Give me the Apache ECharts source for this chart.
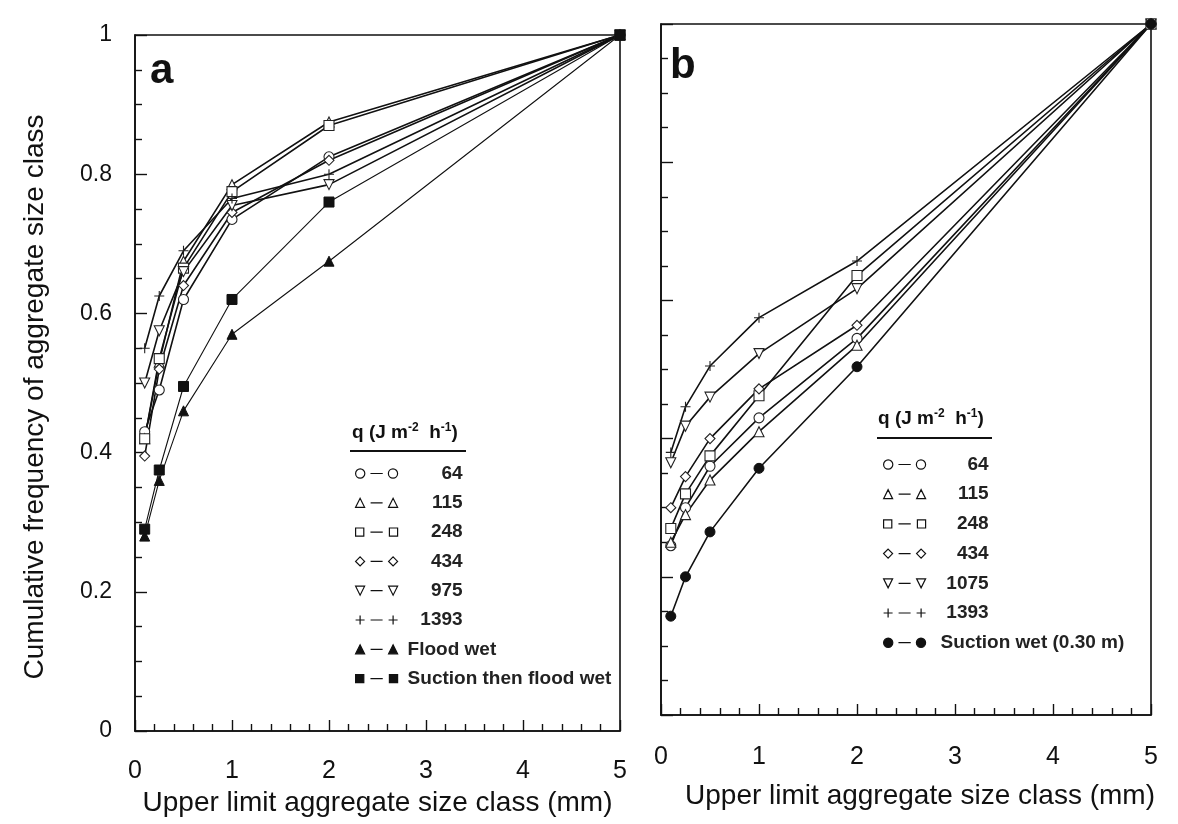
<!DOCTYPE html>
<html>
<head>
<meta charset="utf-8">
<script src="https://cdn.jsdelivr.net/npm/echarts@6/dist/echarts.min.js"></script>
<style>
  html, body { margin: 0; padding: 0; background: #fff; }
  #chart { width: 1178px; height: 824px; }
</style>
</head>
<body>
<div id="chart"></div>
<script>
// upper limit of each aggregate size class (mm)
const sizeClasses = [0.1, 0.25, 0.5, 1, 2, 5];

// panel a: cumulative frequency per heating rate q
const a64 = [0.43, 0.49, 0.62, 0.735, 0.825, 1];
const a115 = [0.42, 0.53, 0.675, 0.785, 0.875, 1];
const a248 = [0.42, 0.535, 0.665, 0.775, 0.87, 1];
const a434 = [0.395, 0.52, 0.64, 0.745, 0.82, 1];
const a975 = [0.50, 0.575, 0.66, 0.755, 0.785, 1];
const a1393 = [0.55, 0.625, 0.69, 0.765, 0.80, 1];
const aFloodWet = [0.28, 0.36, 0.46, 0.57, 0.675, 1];
const aSuctionFlood = [0.29, 0.375, 0.495, 0.62, 0.76, 1];

// panel b
const b64 = [0.245, 0.30, 0.36, 0.43, 0.545, 1];
const b115 = [0.25, 0.29, 0.34, 0.41, 0.535, 1];
const b248 = [0.27, 0.32, 0.375, 0.462, 0.636, 1];
const b434 = [0.30, 0.345, 0.40, 0.472, 0.564, 1];
const b1075 = [0.365, 0.418, 0.46, 0.523, 0.617, 1];
const b1393 = [0.38, 0.446, 0.505, 0.575, 0.657, 1];
const bSuctionWet = [0.143, 0.20, 0.265, 0.357, 0.504, 1];

const xTicks = [0, 1, 2, 3, 4, 5];
const yTicks = [0, 0.2, 0.4, 0.6, 0.8, 1];

const legendA = ['64', '115', '248', '434', '975', '1393', 'Flood wet', 'Suction then flood wet'];
const legendB = ['64', '115', '248', '434', '1075', '1393', 'Suction wet (0.30 m)'];

const FONT = 'Liberation Sans, Arial, sans-serif';
const PLUS = 'path://M0,5L10,5M5,0L5,10';
const TRI_DOWN = 'path://M0,0L10,0L5,9Z';

// legend icons drawn as "symbol - symbol"
const DASH = ' M15,5H27';
const ICONS = {
  circle: 'path://M0.5,5a4.5,4.5 0 1,0 9,0a4.5,4.5 0 1,0 -9,0Z M32.5,5a4.5,4.5 0 1,0 9,0a4.5,4.5 0 1,0 -9,0Z' + DASH,
  triangle: 'path://M0,9.5L4.5,0.5L9,9.5Z M33,9.5L37.5,0.5L42,9.5Z' + DASH,
  rect: 'path://M0.5,1h8v8h-8Z M33.5,1h8v8h-8Z' + DASH,
  diamond: 'path://M4.5,0.5L9,5L4.5,9.5L0,5Z M37.5,0.5L42,5L37.5,9.5L33,5Z' + DASH,
  down: 'path://M0,0.5L9,0.5L4.5,9.5Z M33,0.5L42,0.5L37.5,9.5Z' + DASH,
  plus: 'path://M0,5H9M4.5,0.5V9.5 M33,5H42M37.5,0.5V9.5' + DASH
};

function pts(ys) {
  return ys.map((y, i) => [sizeClasses[i], y]);
}

// open symbol = white fill, black outline; filled = black
function line(name, ys, idx, symbol, filled, width) {
  return {
    name: name,
    type: 'line',
    xAxisIndex: idx,
    yAxisIndex: idx,
    data: pts(ys),
    symbol: symbol,
    symbolSize: 10,
    showAllSymbol: true,
    lineStyle: { color: '#111', width: width || 1.6 },
    itemStyle: filled
      ? { color: '#111', borderColor: '#111', borderWidth: 1 }
      : { color: '#fff', borderColor: '#222', borderWidth: 1.1 },
    emphasis: { disabled: true },
    animation: false
  };
}

function xAxis(idx, gap, pad) {
  return {
    type: 'value', gridIndex: idx, min: 0, max: 5, interval: 1,
    name: 'Upper limit aggregate size class (mm)',
    nameLocation: 'middle', nameGap: gap,
    nameTextStyle: { fontFamily: FONT, fontSize: 28, color: '#111', padding: pad },
    axisLine: { lineStyle: { color: '#111', width: 1.6 } },
    axisTick: { inside: true, length: 11, lineStyle: { color: '#111', width: 1.4 } },
    minorTick: { show: true, splitNumber: 5, length: 7, lineStyle: { color: '#111', width: 1.4 } },
    splitLine: { show: false },
    axisLabel: {
      margin: idx === 0 ? 28 : 30, fontFamily: FONT, fontSize: 25, color: '#111',
      formatter: v => xTicks.indexOf(v) >= 0 ? String(v) : ''
    }
  };
}

function yAxis(idx, labels) {
  return {
    type: 'value', gridIndex: idx, min: 0, max: 1, interval: 0.2,
    name: labels ? 'Cumulative frequency of aggregate size class' : '',
    nameLocation: 'middle', nameGap: 86,
    nameTextStyle: { fontFamily: FONT, fontSize: 28, color: '#111', padding: [0, 28, 0, 0] },
    axisLine: { lineStyle: { color: '#111', width: 1.6 } },
    axisTick: { inside: true, length: 12, lineStyle: { color: '#111', width: 1.4 } },
    minorTick: { show: true, splitNumber: 4, length: 7, lineStyle: { color: '#111', width: 1.4 } },
    splitLine: { show: false },
    axisLabel: {
      show: labels, margin: 23, fontFamily: FONT, fontSize: 23, color: '#111',
      formatter: v => yTicks.indexOf(v) >= 0 ? String(v) : ''
    }
  };
}

function iconFor(symbol, filled) {
  return {
    icon: ICONS[symbol],
    itemStyle: filled
      ? { color: '#111', borderColor: '#111', borderWidth: 1.2 }
      : { color: '#fff', borderColor: '#111', borderWidth: 1.2 }
  };
}

function legend(names, symbols, left, top, gap, numWidth, namePad) {
  return {
    data: names.map((n, i) => Object.assign({ name: n }, iconFor(symbols[i][0], symbols[i][1]))),
    orient: 'vertical',
    left: left, top: top,
    padding: 0,
    itemWidth: 42, itemHeight: 10,
    itemGap: gap,
    selectedMode: false,
    textStyle: {
      fontFamily: FONT, fontSize: 19, fontWeight: 'bold', color: '#222', lineHeight: 19,
      rich: {
        n: { width: numWidth, align: 'right', fontFamily: FONT, fontSize: 19, fontWeight: 'bold', color: '#222' },
        t: { padding: [0, 0, 0, namePad], fontFamily: FONT, fontSize: 19, fontWeight: 'bold', color: '#222' }
      }
    },
    formatter: n => /^\d+$/.test(n) ? '{n|' + n + '}' : '{t|' + n + '}'
  };
}

// legend heading with superscripts
const qTitle = '{b|q (J m}{s|-2}{b|  h}{s|-1}{b|)}';
const qRich = {
  b: { fontFamily: FONT, fontSize: 19, fontWeight: 'bold', color: '#111', lineHeight: 22 },
  s: { fontFamily: FONT, fontSize: 12, fontWeight: 'bold', color: '#111', lineHeight: 12, verticalAlign: 'top' }
};

const chart = echarts.init(document.getElementById('chart'));

chart.setOption({
  backgroundColor: '#fff',
  title: [
    { text: 'a', left: 150, top: 50, padding: 0, textStyle: { fontFamily: FONT, fontSize: 42, fontWeight: 'bold', color: '#111' } },
    { text: 'b', left: 670, top: 45, padding: 0, textStyle: { fontFamily: FONT, fontSize: 42, fontWeight: 'bold', color: '#111' } },
    { text: qTitle, left: 352, top: 422, padding: 0, textStyle: { rich: qRich } },
    { text: qTitle, left: 878, top: 408, padding: 0, textStyle: { rich: qRich } }
  ],
  graphic: [
    { type: 'line', shape: { x1: 350, y1: 451, x2: 466, y2: 451 }, style: { stroke: '#111', lineWidth: 2 } },
    { type: 'line', shape: { x1: 877, y1: 438, x2: 992, y2: 438 }, style: { stroke: '#111', lineWidth: 2 } }
  ],
  legend: [
    legend(legendA,
      [['circle', 0], ['triangle', 0], ['rect', 0], ['diamond', 0], ['down', 0], ['plus', 0], ['triangle', 1], ['rect', 1]],
      355, 464, 10.3, 60, 5),
    legend(legendB,
      [['circle', 0], ['triangle', 0], ['rect', 0], ['diamond', 0], ['down', 0], ['plus', 0], ['circle', 1]],
      883, 455, 10.7, 58, 10)
  ],
  grid: [
    { left: 135, top: 35, width: 485, height: 696, show: true, borderColor: '#111', borderWidth: 1.6 },
    { left: 661, top: 24, width: 490, height: 691, show: true, borderColor: '#111', borderWidth: 1.6 }
  ],
  xAxis: [xAxis(0, 57, 0), xAxis(1, 67, [0, 0, 0, 28])],
  yAxis: [yAxis(0, true), yAxis(1, false)],
  series: [
    line('64', a64, 0, 'circle', false),
    line('115', a115, 0, 'triangle', false),
    line('248', a248, 0, 'rect', false),
    line('434', a434, 0, 'diamond', false),
    line('975', a975, 0, TRI_DOWN, false),
    line('1393', a1393, 0, PLUS, false),
    line('Flood wet', aFloodWet, 0, 'triangle', true, 1.1),
    line('Suction then flood wet', aSuctionFlood, 0, 'rect', true, 1.1),

    line('64', b64, 1, 'circle', false),
    line('115', b115, 1, 'triangle', false),
    line('248', b248, 1, 'rect', false),
    line('434', b434, 1, 'diamond', false),
    line('1075', b1075, 1, TRI_DOWN, false),
    line('1393', b1393, 1, PLUS, false),
    line('Suction wet (0.30 m)', bSuctionWet, 1, 'circle', true)
  ]
});
</script>
</body>
</html>
